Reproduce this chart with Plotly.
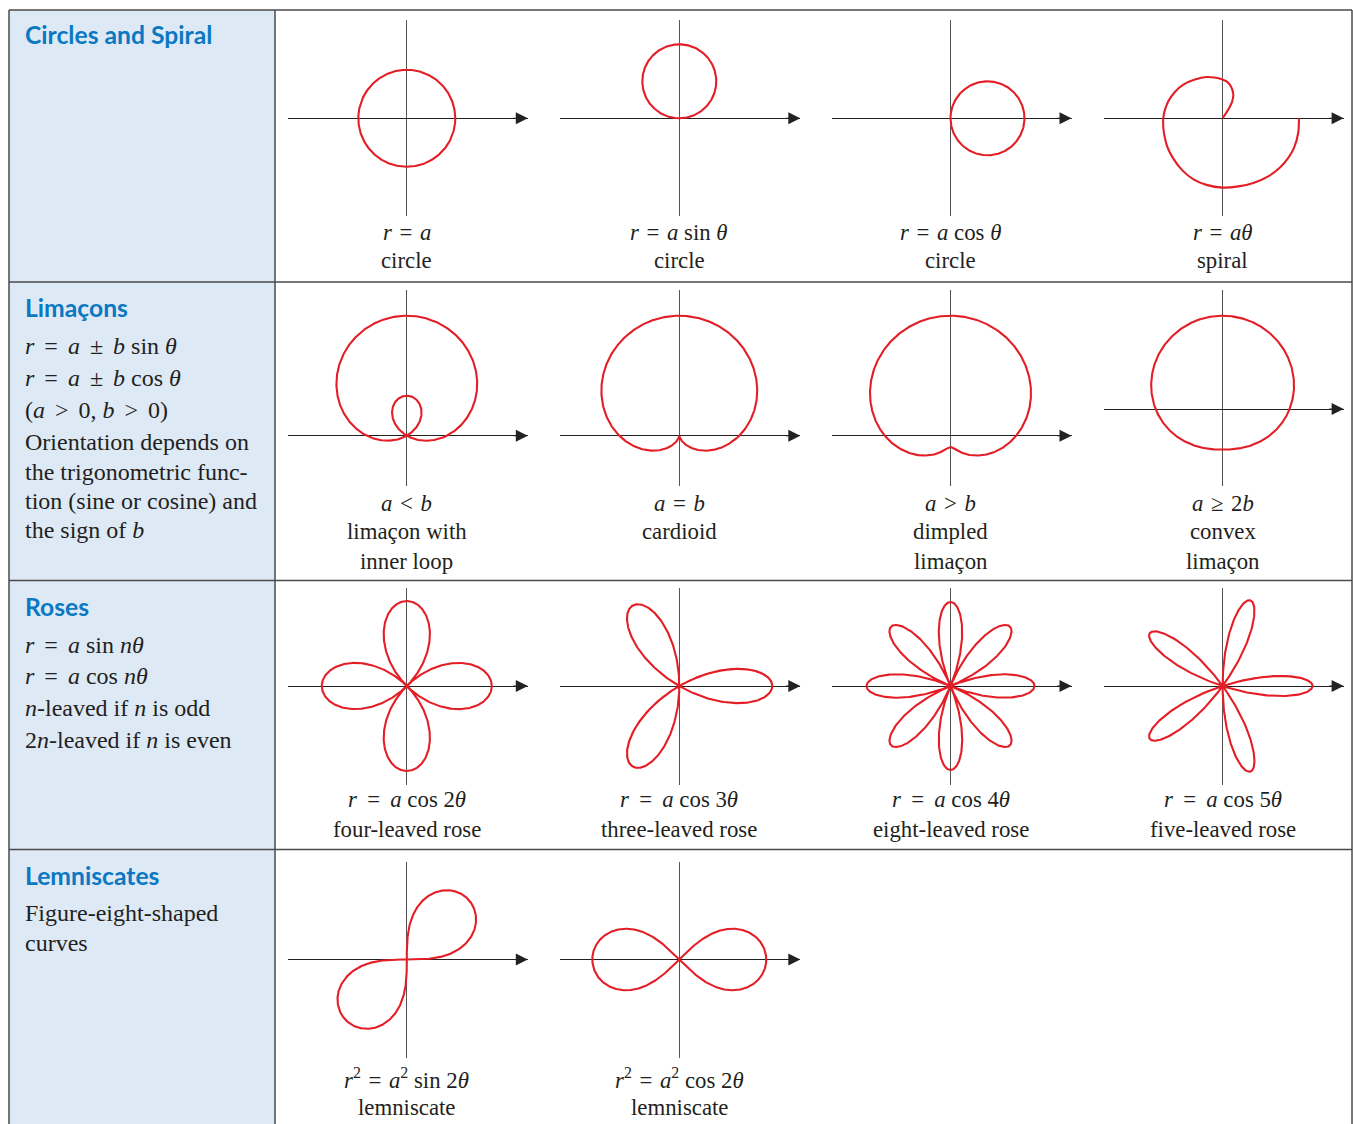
import numpy as np
import plotly.graph_objects as go

W, H = 1353, 1124

# ---------------- data (pixel units) ----------------
circle_a = 48.5            # r = a
sin_circle_a = 74.0        # r = a sin(theta)
cos_circle_a = 74.0        # r = a cos(theta)
# spiral r = a*theta as drawn in the picture: (angle in degrees, radius) readings
spiral_theta_deg = [57, 56.8, 60.1, 66.0, 75.5, 83.8, 90, 101.1, 111.2, 125.6, 139.4, 151.1, 162.6,
                    180, 205.2, 218.8, 232.3, 244.5, 256.4, 270, 283, 295.4, 308.2, 319.1,
                    328.9, 337.7, 349, 360]
spiral_r = [0, 10.4, 19.0, 26.3, 33.1, 37.2, 38.7, 41.5, 44.3, 47.6, 51.8, 54.5, 56.9,
            59.3, 61.9, 63.6, 65.8, 67.6, 68.5, 69.3, 69.9, 71.6, 73.8, 75.6,
            76.7, 77.3, 77.0, 76.3]

limacon_a = [40.0, 60.0, 65.7, 67.0]
limacon_b = [80.0, 60.0, 54.3, 26.3]

rose_a = [85.0, 93.0, 84.0, 90.0]
rose_n = [2, 3, 4, 5]

lemniscate_a = [86.0, 87.0]

SP = "\u2004\u200a"   # wide math space used in the left column
TH = "\u2009"
HA = "\u200a"

row_titles = ["Circles and Spiral", "Limaçons", "Roses", "Lemniscates"]
row_text = [
    [],
    [f"<i>r</i>{SP}={SP}<i>a</i>{SP}±{SP}<i>b</i> sin <i>θ</i>",
     f"<i>r</i>{SP}={SP}<i>a</i>{SP}±{SP}<i>b</i> cos <i>θ</i>",
     f"(<i>a</i>{SP}&gt;{SP}0, <i>b</i>{SP}&gt;{SP}0)",
     "Orientation depends on",
     "the trigonometric func-",
     "tion (sine or cosine) and",
     "the sign of <i>b</i>"],
    [f"<i>r</i>{SP}={SP}<i>a</i> sin <i>nθ</i>",
     f"<i>r</i>{SP}={SP}<i>a</i> cos <i>nθ</i>",
     "<i>n</i>-leaved if <i>n</i> is odd",
     "2<i>n</i>-leaved if <i>n</i> is even"],
    ["Figure-eight-shaped", "curves"],
]

EQH = f"{HA}={HA}"
EQT = f"{TH}={TH}"
row1_labels = [[f"<i>r</i> {EQH} <i>a</i>", "circle"],
               [f"<i>r</i> {EQH} <i>a</i> sin <i>θ</i>", "circle"],
               [f"<i>r</i> {EQH} <i>a</i> cos <i>θ</i>", "circle"],
               [f"<i>r</i> {EQH} <i>aθ</i>", "spiral"]]
row2_labels = [[f"<i>a</i> {HA}&lt;{HA} <i>b</i>", "limaçon with", "inner loop"],
               [f"<i>a</i> {HA}={HA} <i>b</i>", "cardioid"],
               [f"<i>a</i> {HA}&gt;{HA} <i>b</i>", "dimpled", "limaçon"],
               [f"<i>a</i> {HA}≥{HA} 2<i>b</i>", "convex", "limaçon"]]
row3_labels = [[f"<i>r</i> {EQT} <i>a</i> cos 2<i>θ</i>", "four-leaved rose"],
               [f"<i>r</i> {EQT} <i>a</i> cos 3<i>θ</i>", "three-leaved rose"],
               [f"<i>r</i> {EQT} <i>a</i> cos 4<i>θ</i>", "eight-leaved rose"],
               [f"<i>r</i> {EQT} <i>a</i> cos 5<i>θ</i>", "five-leaved rose"]]
row4_labels = [[f"<i>r</i><sup>2</sup> {EQH} <i>a</i><sup>2</sup> sin 2<i>θ</i>", "lemniscate"],
               [f"<i>r</i><sup>2</sup> {EQH} <i>a</i><sup>2</sup> cos 2<i>θ</i>", "lemniscate"]]

# ---------------- layout geometry (pixels) ----------------
RED = "#e31e26"
TXT = "#231f20"
BLUE = "#0a78c2"
SERIF = "Liberation Serif"
SANS = "Lato"

col_cx = [406.8, 679.3, 950.5, 1222.6]
L_EXT, R_EXT = 119.0, 121.0
row_vert = [(20, 216), (290, 486), (588, 784.5), (862, 1058)]
row_cy = [[118.3] * 4, [435.7, 435.7, 435.7, 409.0], [686.0] * 4, [959.5, 959.5]]
row_label_y = [[232, 261], [503, 532, 561], [799.5, 829], [1078, 1107]]

fig = go.Figure()


def polar_xy(r, t):
    r = np.asarray(r, dtype=float)
    t = np.asarray(t, dtype=float)
    return r * np.cos(t), r * np.sin(t)


curves = {}
t_full = np.linspace(0, 2 * np.pi, 1441)
# row 1
curves[(0, 0)] = polar_xy(np.full_like(t_full, circle_a), t_full)
t_half = np.linspace(0, np.pi, 721)
curves[(0, 1)] = polar_xy(sin_circle_a * np.sin(t_half), t_half)
t_c = np.linspace(-np.pi / 2, np.pi / 2, 721)
curves[(0, 2)] = polar_xy(cos_circle_a * np.cos(t_c), t_c)
curves[(0, 3)] = polar_xy(spiral_r, np.radians(spiral_theta_deg))
# row 2
for i in range(4):
    curves[(1, i)] = polar_xy(limacon_a[i] + limacon_b[i] * np.sin(t_full), t_full)
# row 3
for i in range(4):
    curves[(2, i)] = polar_xy(rose_a[i] * np.cos(rose_n[i] * t_full), t_full)
# row 4
t_q = np.linspace(0, np.pi / 2, 721)
r_s = lemniscate_a[0] * np.sqrt(np.clip(np.sin(2 * t_q), 0, None))
xs, ys = polar_xy(r_s, t_q)
curves[(3, 0)] = (np.concatenate([xs, -xs]), np.concatenate([ys, -ys]))
t_q2 = np.linspace(-np.pi / 4, np.pi / 4, 721)
r_c = lemniscate_a[1] * np.sqrt(np.clip(np.cos(2 * t_q2), 0, None))
xc, yc = polar_xy(r_c, t_q2)
curves[(3, 1)] = (np.concatenate([xc, -xc]), np.concatenate([yc, -yc]))

annotations = []
k = 0
for (row, col), (cx_data, cy_data) in curves.items():
    k += 1
    cx = col_cx[col]
    cy = row_cy[row][col]
    top, bot = row_vert[row]
    xa = "xaxis" if k == 1 else f"xaxis{k}"
    ya = "yaxis" if k == 1 else f"yaxis{k}"
    xr = "x" if k == 1 else f"x{k}"
    yr = "y" if k == 1 else f"y{k}"
    fig.layout[xa] = dict(domain=[(cx - L_EXT) / W, (cx + R_EXT) / W], range=[-L_EXT, R_EXT],
                          showgrid=False, showticklabels=False, ticks="", showline=False,
                          zeroline=True, zerolinecolor="#555555", zerolinewidth=1.2,
                          fixedrange=True, anchor=yr)
    fig.layout[ya] = dict(domain=[1 - bot / H, 1 - top / H], range=[-(bot - cy), cy - top],
                          showgrid=False, showticklabels=False, ticks="", showline=False,
                          zeroline=True, zerolinecolor="#222222", zerolinewidth=1.2,
                          fixedrange=True, anchor=xr)
    is_spiral = (row, col) == (0, 3)
    fig.add_trace(go.Scatter(x=cx_data, y=cy_data, mode="lines",
                             line=dict(color=RED, width=2.1,
                                       shape="spline" if is_spiral else "linear",
                                       smoothing=1.0),
                             xaxis=xr, yaxis=yr, hoverinfo="skip", showlegend=False))
    annotations.append(dict(x=R_EXT, y=0, ax=R_EXT - 16, ay=0, xref=xr, yref=yr,
                            axref=xr, ayref=yr, showarrow=True, arrowhead=2, arrowsize=2.0,
                            arrowwidth=1.2, arrowcolor="#222222", text="", standoff=0))
    labels = [row1_labels, row2_labels, row3_labels, row4_labels][row][col]
    for j, lab in enumerate(labels):
        annotations.append(dict(x=cx / W, y=1 - row_label_y[row][j] / H, xref="paper", yref="paper",
                                text=lab, showarrow=False, xanchor="center", yanchor="middle",
                                borderpad=0, borderwidth=0,
                                font=dict(family=SERIF, size=22.8, color=TXT)))

title_y = [35, 307, 606.5, 875]
text_y = [[], [346, 378, 410, 441.5, 471.5, 500.5, 530], [645, 675.5, 707.5, 739.5], [913, 943]]
for i, title in enumerate(row_titles):
    annotations.append(dict(x=25 / W, y=1 - title_y[i] / H, xref="paper", yref="paper",
                            text=f"<b>{title}</b>", showarrow=False, xanchor="left", yanchor="middle",
                            borderpad=0, borderwidth=0,
                            font=dict(family=SANS, size=24.7, color=BLUE)))
    for j, line in enumerate(row_text[i]):
        annotations.append(dict(x=25 / W, y=1 - text_y[i][j] / H, xref="paper", yref="paper",
                                text=line, showarrow=False, xanchor="left", yanchor="middle",
                                borderpad=0, borderwidth=0,
                                font=dict(family=SERIF, size=24, color=TXT)))

shapes = [dict(type="rect", xref="paper", yref="paper", x0=9 / W, x1=275 / W, y0=0, y1=1 - 10 / H,
               fillcolor="#dee9f6", line=dict(width=0), layer="below")]
for yy in [10, 282, 580.5, 849.5]:
    shapes.append(dict(type="line", xref="paper", yref="paper", x0=9 / W, x1=1352 / W,
                       y0=1 - yy / H, y1=1 - yy / H, line=dict(color="#4a4a4a", width=1.5)))
for xx in [9, 275, 1352]:
    shapes.append(dict(type="line", xref="paper", yref="paper", x0=xx / W, x1=xx / W,
                       y0=0, y1=1 - 10 / H, line=dict(color="#4a4a4a", width=1.5)))

fig.update_layout(width=W, height=H, margin=dict(l=0, r=0, t=0, b=0),
                  paper_bgcolor="white", plot_bgcolor="rgba(0,0,0,0)",
                  annotations=annotations, shapes=shapes, showlegend=False)

fig.write_html("out.html", config={"displayModeBar": False},
               post_script="document.body.style.margin='0';document.body.style.overflow='hidden';")
